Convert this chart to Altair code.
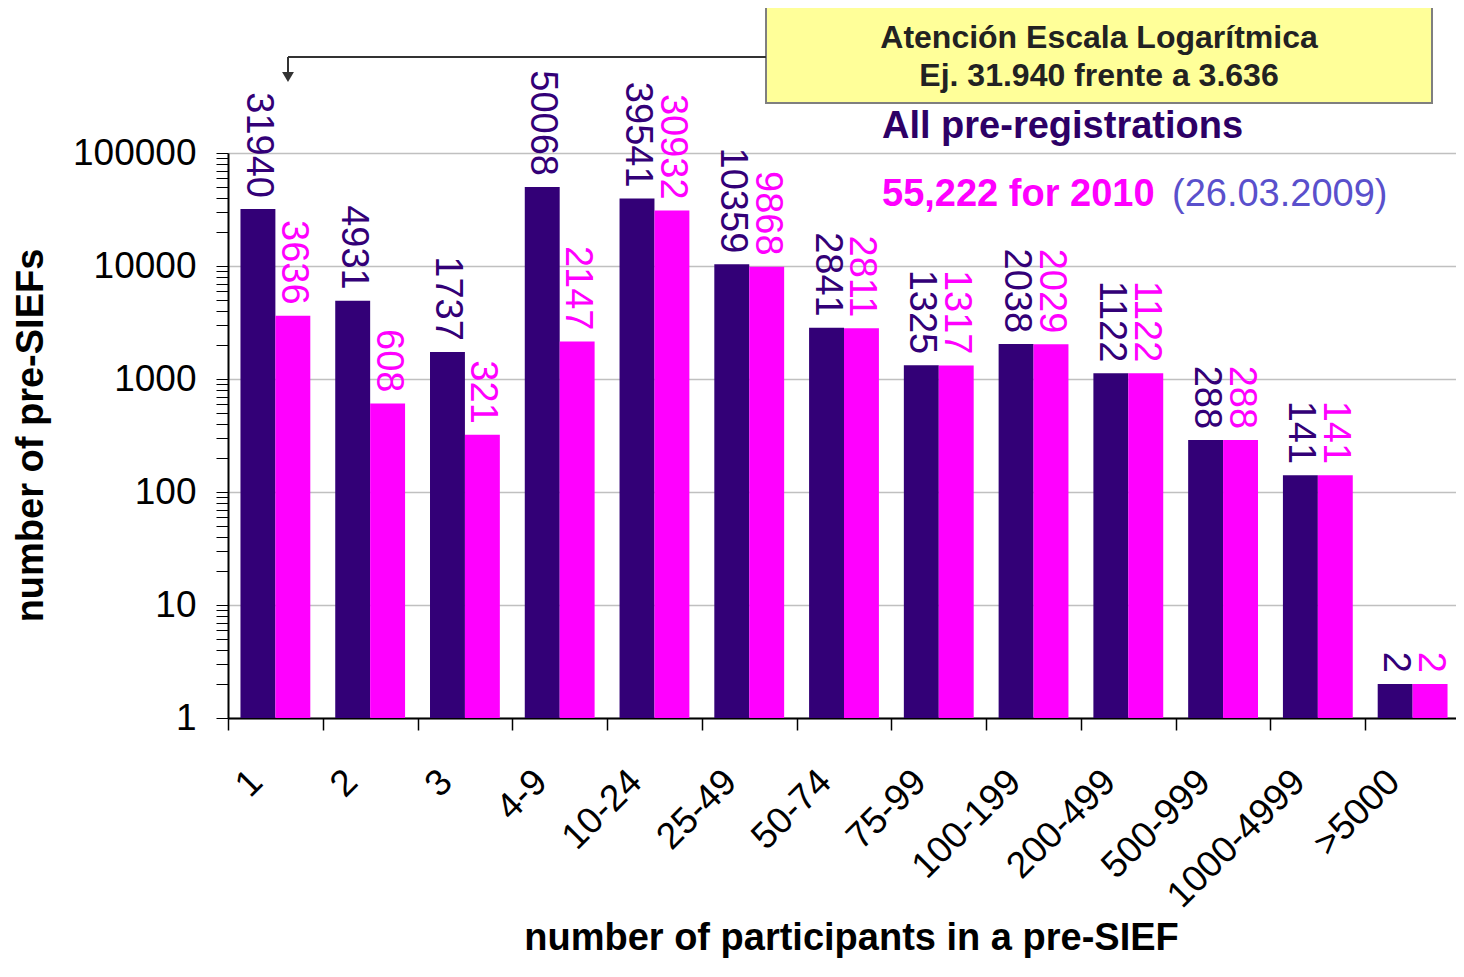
import altair as alt
import pandas as pd

categories = ["1", "2", "3", "4-9", "10-24", "25-49", "50-74", "75-99",
              "100-199", "200-499", "500-999", "1000-4999", ">5000"]
all_values = [31940, 4931, 1737, 50068, 39541, 10359, 2841, 1325, 2038, 1122, 288, 141, 2]
y2010_values = [3636, 608, 321, 2147, 30932, 9868, 2811, 1317, 2029, 1122, 288, 141, 2]
series_names = ["All pre-registrations", "for 2010"]
series_colors = ["#330077", "#ff00ff"]
y_ticks = [m * 10 ** k for k in range(5) for m in range(1, 10)] + [100000]

rows = []
for c, a, b in zip(categories, all_values, y2010_values):
    rows.append({"cat": c, "series": series_names[0], "value": a})
    rows.append({"cat": c, "series": series_names[1], "value": b})
df = pd.DataFrame(rows)

FONT = "Liberation Sans"
majors = "indexof([1,10,100,1000,10000,100000], datum.value) >= 0"

x_enc = alt.X(
    "cat:N", sort=categories,
    scale=alt.Scale(paddingInner=0, paddingOuter=0, range=[0, 1232]),
    axis=alt.Axis(
        title="number of participants in a pre-SIEF",
        titleFontSize=38, titleFontWeight="bold", titleColor="#000000",
        titleX=623, titleY=231, titleBaseline="alphabetic",
        labelAngle=-45, labelAlign="right", labelBaseline="middle",
        labelFontSize=37, labelColor="#000000", labelOffset=-19, labelPadding=46,
        tickBand="extent", tickSize=12, tickColor="#000000", tickWidth=1.5,
        domainColor="#000000", domainWidth=2, grid=False,
    ),
)
y_enc = alt.Y(
    "value:Q", stack=None,
    scale=alt.Scale(type="log", domain=[1, 100000], nice=False),
    axis=alt.Axis(
        title="number of pre-SIEFs",
        titleFontSize=38, titleFontWeight="bold", titleColor="#000000",
        titleX=-197, titleY=282, titleAngle=-90, titleBaseline="middle", titleAlign="center",
        values=y_ticks,
        labelExpr=f"{majors} ? format(datum.value, 'd') : ''",
        labelOverlap=False, labelFlush=False,
        labelFontSize=37, labelColor="#000000", labelPadding=20,
        tickSize=12, tickColor="#000000", tickWidth=1,
        domainColor="#000000", domainWidth=2,
        grid=True, gridColor="#c0c0c0", gridWidth=1.5,
        gridOpacity={"condition": {"test": majors, "value": 1}, "value": 0},
    ),
)
color_enc = alt.Color("series:N", scale=alt.Scale(domain=series_names, range=series_colors), legend=None)
offset_enc = alt.XOffset("series:N", sort=series_names,
                         scale=alt.Scale(paddingInner=0, paddingOuter=0.357))

base = alt.Chart(df)
bars = base.mark_bar().encode(x=x_enc, y=y_enc, xOffset=offset_enc, color=color_enc)
labels = base.mark_text(angle=90, align="right", baseline="middle", dx=-11,
                        fontSize=38, font=FONT).encode(
    x=alt.X("cat:N", sort=categories), y=alt.Y("value:Q", stack=None), xOffset=offset_enc,
    text="value:Q", color=color_enc)

one = alt.Data(values=[{}])

box = alt.Chart(one).mark_rect(fill="#ffff99", stroke="#7f7f7f", strokeWidth=2).encode(
    x=alt.value(538), x2=alt.value(1204), y=alt.value(-147), y2=alt.value(-50))
box_t1 = alt.Chart(one).mark_text(text="Atención Escala Logarítmica", font=FONT, fontWeight="bold",
                                  fontSize=32, color="#222222", align="center", baseline="alphabetic").encode(
    x=alt.value(871), y=alt.value(-105))
box_t2 = alt.Chart(one).mark_text(text="Ej. 31.940 frente a 3.636", font=FONT, fontWeight="bold",
                                  fontSize=32, color="#222222", align="center", baseline="alphabetic").encode(
    x=alt.value(871), y=alt.value(-67))
arrow_h = alt.Chart(one).mark_rule(color="#333333", strokeWidth=2).encode(
    x=alt.value(60), x2=alt.value(538), y=alt.value(-96))
arrow_v = alt.Chart(one).mark_rule(color="#333333", strokeWidth=2).encode(
    x=alt.value(60), y=alt.value(-96), y2=alt.value(-80))
arrow_head = alt.Chart(one).mark_point(shape="triangle-down", filled=True, color="#333333",
                                       size=140, opacity=1).encode(
    x=alt.value(60), y=alt.value(-76))
t_all = alt.Chart(one).mark_text(text="All pre-registrations", font=FONT, fontWeight="bold", fontSize=38,
                                 color="#2d0066", align="left", baseline="alphabetic").encode(
    x=alt.value(654), y=alt.value(-15))
t_2010 = alt.Chart(one).mark_text(text="55,222 for 2010", font=FONT, fontWeight="bold", fontSize=38,
                                  color="#ff00ff", align="left", baseline="alphabetic").encode(
    x=alt.value(654), y=alt.value(53))
t_date = alt.Chart(one).mark_text(text="(26.03.2009)", font=FONT, fontSize=38,
                                  color="#5a50cc", align="left", baseline="alphabetic").encode(
    x=alt.value(944), y=alt.value(53))

chart = alt.layer(bars, labels, box, box_t1, box_t2, arrow_h, arrow_v, arrow_head,
                  t_all, t_2010, t_date).properties(
    width=1227, height=565,
    autosize=alt.AutoSizeParams(type="none"),
    padding={"left": 220, "top": 145, "right": 1, "bottom": 240},
).configure(font=FONT).configure_view(stroke=None)

chart.save("out.html", embed_options={"renderer": "svg", "actions": False})
